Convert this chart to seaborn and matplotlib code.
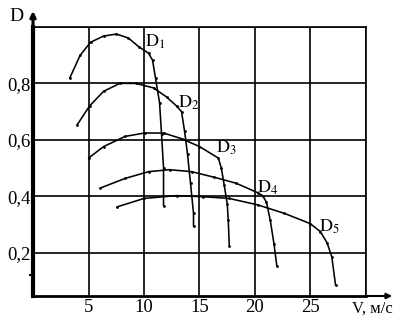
import matplotlib
matplotlib.use("Agg")
import matplotlib.pyplot as plt
import seaborn as sns
import pandas as pd

sns.set_theme(style="white")
plt.rcParams['font.family'] = ['Liberation Serif', 'DejaVu Serif']
plt.rcParams['mathtext.fontset'] = 'stix'

# --- data ---
d1_v = [3.30, 4.25, 5.19, 6.36, 7.52, 8.59, 9.56, 10.41, 10.77, 11.04, 11.40, 11.58, 11.76, 11.76]
d1_d = [0.818, 0.900, 0.946, 0.968, 0.975, 0.961, 0.929, 0.907, 0.882, 0.818, 0.732, 0.620, 0.501, 0.366]

d2_v = [3.96, 5.10, 6.36, 7.82, 9.27, 10.86, 12.03, 12.93, 13.38, 13.65, 13.92, 14.19, 14.46, 14.46]
d2_d = [0.652, 0.720, 0.772, 0.800, 0.800, 0.784, 0.752, 0.720, 0.700, 0.632, 0.549, 0.446, 0.339, 0.293]

d3_v = [5.00, 6.36, 8.30, 10.05, 11.76, 13.38, 15.00, 16.70, 16.96, 17.23, 17.50, 17.59, 17.68]
d3_d = [0.535, 0.576, 0.612, 0.624, 0.624, 0.604, 0.576, 0.535, 0.501, 0.439, 0.372, 0.316, 0.225]

d4_v = [6.07, 8.30, 10.41, 12.30, 14.28, 16.34, 18.30, 20.26, 20.68, 21.03, 21.37, 21.71, 21.97]
d4_d = [0.429, 0.463, 0.487, 0.494, 0.487, 0.467, 0.446, 0.412, 0.402, 0.379, 0.316, 0.231, 0.152]

d5_v = [7.57, 10.00, 12.93, 15.36, 17.68, 20.26, 22.65, 24.96, 25.90, 26.50, 26.92, 27.26]
d5_d = [0.362, 0.392, 0.402, 0.398, 0.392, 0.369, 0.339, 0.303, 0.274, 0.234, 0.185, 0.084]

curve_names = ["1", "2", "3", "4", "5"]
label_pos_v = [10.1, 13.1, 16.5, 20.2, 25.8]
label_pos_d = [0.948, 0.732, 0.572, 0.428, 0.292]

x_ticks = [5, 10, 15, 20, 25]
x_tick_labels = ["5", "10", "15", "20", "25"]
y_ticks = [0.2, 0.4, 0.6, 0.8]
y_tick_labels = ["0,2", "0,4", "0,6", "0,8"]
x_label = "V, м/с"
y_label = "D"

curves = [(d1_v, d1_d), (d2_v, d2_d), (d3_v, d3_d), (d4_v, d4_d), (d5_v, d5_d)]

fig = plt.figure(figsize=(4.01, 3.20), dpi=100)
ax = fig.add_axes([0.0823, 0.075, 0.8304, 0.8406])

for name, (v, d) in zip(curve_names, curves):
    df = pd.DataFrame({"V": v, "D": d})
    sns.lineplot(data=df, x="V", y="D", ax=ax, color="black", linewidth=1.15,
                 sort=False, estimator=None, marker="o", markersize=2.0,
                 markeredgewidth=0)

for name, lx, ly in zip(curve_names, label_pos_v, label_pos_d):
    ax.text(lx, ly, r"$\mathrm{D}_{" + name + "}$", fontsize=13, ha="left",
            va="center", color="black")

ax.set_xlim(0, 30)
ax.set_ylim(0.046, 1.0)
ax.set_xticks(x_ticks + [30])
ax.set_xticklabels(x_tick_labels + [""])
ax.set_yticks(y_ticks + [1.0])
ax.set_yticklabels(y_tick_labels + [""])
ax.set_yticks([0.12], minor=True)
ax.grid(True, color="black", linewidth=1.2)
ax.tick_params(axis="both", which="major", length=0, labelsize=13.5,
               colors="black", pad=2)
ax.tick_params(axis="y", which="minor", length=3, width=1.5, color="black",
               left=True, direction="out")
ax.set_xlabel("")
ax.set_ylabel("")

for side in ["top", "right"]:
    ax.spines[side].set_visible(True)
    ax.spines[side].set_color("black")
    ax.spines[side].set_linewidth(1.2)
ax.spines["left"].set_color("black")
ax.spines["left"].set_linewidth(3)
ax.spines["bottom"].set_color("black")
ax.spines["bottom"].set_linewidth(2)

ax.annotate("", xy=(0, 1.07), xytext=(0, 0.99), xycoords="axes fraction",
            arrowprops=dict(arrowstyle="-|>", color="black", lw=2.2,
                            mutation_scale=8), annotation_clip=False)
ax.annotate("", xy=(1.087, 0), xytext=(0.99, 0), xycoords="axes fraction",
            arrowprops=dict(arrowstyle="-|>", color="black", lw=1.5,
                            mutation_scale=8), annotation_clip=False)

ax.text(-0.05, 1.04, y_label, transform=ax.transAxes, fontsize=14,
        ha="center", va="center", color="black")
ax.text(1.018, -0.047, x_label, transform=ax.transAxes, fontsize=12,
        ha="center", va="center", color="black")

fig.savefig("out.png", dpi=100, facecolor="white")
